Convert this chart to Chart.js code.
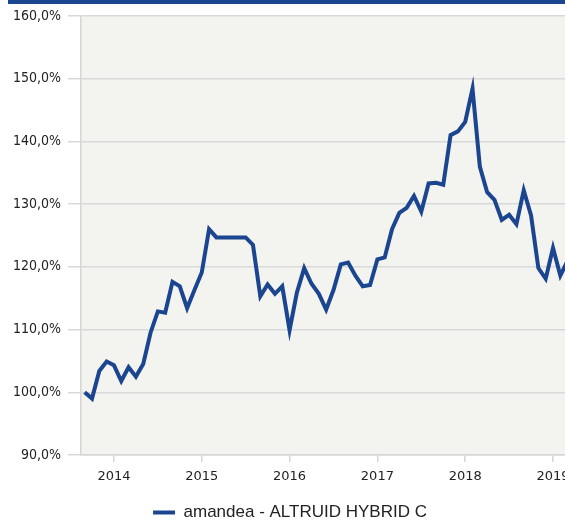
<!DOCTYPE html>
<html>
<head>
<meta charset="utf-8">
<script src="https://cdn.jsdelivr.net/npm/chart.js@4/dist/chart.umd.min.js"></script>
<style>
  html, body { margin: 0; padding: 0; background: #fff; overflow: hidden; }
  #wrap { position: relative; width: 565px; height: 521px; overflow: hidden; }
  #bar { position: absolute; left: 8px; top: 0; width: 600px; height: 4px; background: #1c4590; }
  canvas { position: absolute; left: 0; top: 0; }
</style>
</head>
<body>
<div id="wrap">
  <canvas id="chart" width="582" height="531"></canvas>
  <div id="bar"></div>
</div>
<script>
// monthly values, starting Sep 2013
const months = [
  "2013-09","2013-10","2013-11","2013-12",
  "2014-01","2014-02","2014-03","2014-04","2014-05","2014-06","2014-07","2014-08","2014-09","2014-10","2014-11","2014-12",
  "2015-01","2015-02","2015-03","2015-04","2015-05","2015-06","2015-07","2015-08","2015-09","2015-10","2015-11","2015-12",
  "2016-01","2016-02","2016-03","2016-04","2016-05","2016-06","2016-07","2016-08","2016-09","2016-10","2016-11","2016-12",
  "2017-01","2017-02","2017-03","2017-04","2017-05","2017-06","2017-07","2017-08","2017-09","2017-10","2017-11","2017-12",
  "2018-01","2018-02","2018-03","2018-04","2018-05","2018-06","2018-07","2018-08","2018-09","2018-10","2018-11","2018-12",
  "2019-01","2019-02","2019-03"
];
const values = [
  100.0, 99.0, 103.4, 104.9,
  104.3, 101.8, 104.0, 102.5, 104.5, 109.5, 112.9, 112.7, 117.6, 116.9, 113.4, 116.3,
  119.1, 126.0, 124.7, 124.7, 124.7, 124.7, 124.7, 123.5, 115.3, 117.2, 115.7, 116.9,
  109.9, 115.9, 119.8, 117.3, 115.7, 113.2, 116.3, 120.4, 120.7, 118.6, 116.9, 117.1,
  121.2, 121.5, 126.0, 128.6, 129.4, 131.3, 128.8, 133.3, 133.4, 133.1, 141.0, 141.6,
  143.1, 148.4, 136.0, 131.9, 130.7, 127.5, 128.3, 126.8, 132.2, 128.2, 119.8, 118.1,
  123.0, 118.6, 121.0
];
const yTicks = [90, 100, 110, 120, 130, 140, 150, 160];
const seriesName = "amandea - ALTRUID HYBRID C";

const points = months.map((m, i) => {
  const [y, mo] = m.split("-").map(Number);
  return { x: y + (mo - 1) / 12, y: values[i] };
});

const plotBg = {
  id: "plotBg",
  beforeDraw(chart) {
    const { ctx, chartArea: a } = chart;
    ctx.save();
    ctx.fillStyle = "#f3f3ef";
    ctx.fillRect(a.left, a.top, a.right - a.left, a.bottom - a.top);
    ctx.restore();
  }
};

new Chart(document.getElementById("chart"), {
  type: "line",
  data: {
    datasets: [{
      label: seriesName,
      data: points,
      borderColor: "#1c4590",
      backgroundColor: "#1c4590",
      borderWidth: 4,
      pointRadius: 0,
      tension: 0
    }]
  },
  options: {
    responsive: false,
    animation: false,
    layout: { padding: { left: 6, top: 16, right: 8, bottom: 0 } },
    plugins: {
      legend: {
        position: "bottom",
        labels: {
          usePointStyle: true,
          pointStyle: "line",
          pointStyleWidth: 22,
          padding: 1,
          color: "#222",
          font: { family: "Liberation Sans", size: 17 }
        }
      },
      tooltip: { enabled: false }
    },
    scales: {
      x: {
        type: "linear",
        min: 2013.625,
        max: 2019.239,
        afterFit(scale) { scale.height = 48; },
        ticks: {
          stepSize: 1,
          includeBounds: false,
          padding: 7,
          color: "#222",
          font: { family: "DejaVu Sans", size: 13 },
          callback: v => String(v)
        },
        grid: { drawOnChartArea: false, tickLength: 7, color: "#d6d6d6", lineWidth: 1.5 },
        border: { color: "#d6d6d6", width: 1.5 }
      },
      y: {
        min: 90,
        max: 160,
        afterBuildTicks(scale) { scale.ticks = yTicks.map(v => ({ value: v })); },
        ticks: {
          padding: 7,
          color: "#222",
          font: { family: "DejaVu Sans Condensed", size: 14 },
          callback: v => v.toFixed(1).replace(".", ",") + "%"
        },
        grid: { tickLength: 13, color: "#d9d9d9", lineWidth: 1.5 },
        border: { color: "#d6d6d6", width: 1.5 }
      }
    }
  },
  plugins: [plotBg]
});
</script>
</body>
</html>
